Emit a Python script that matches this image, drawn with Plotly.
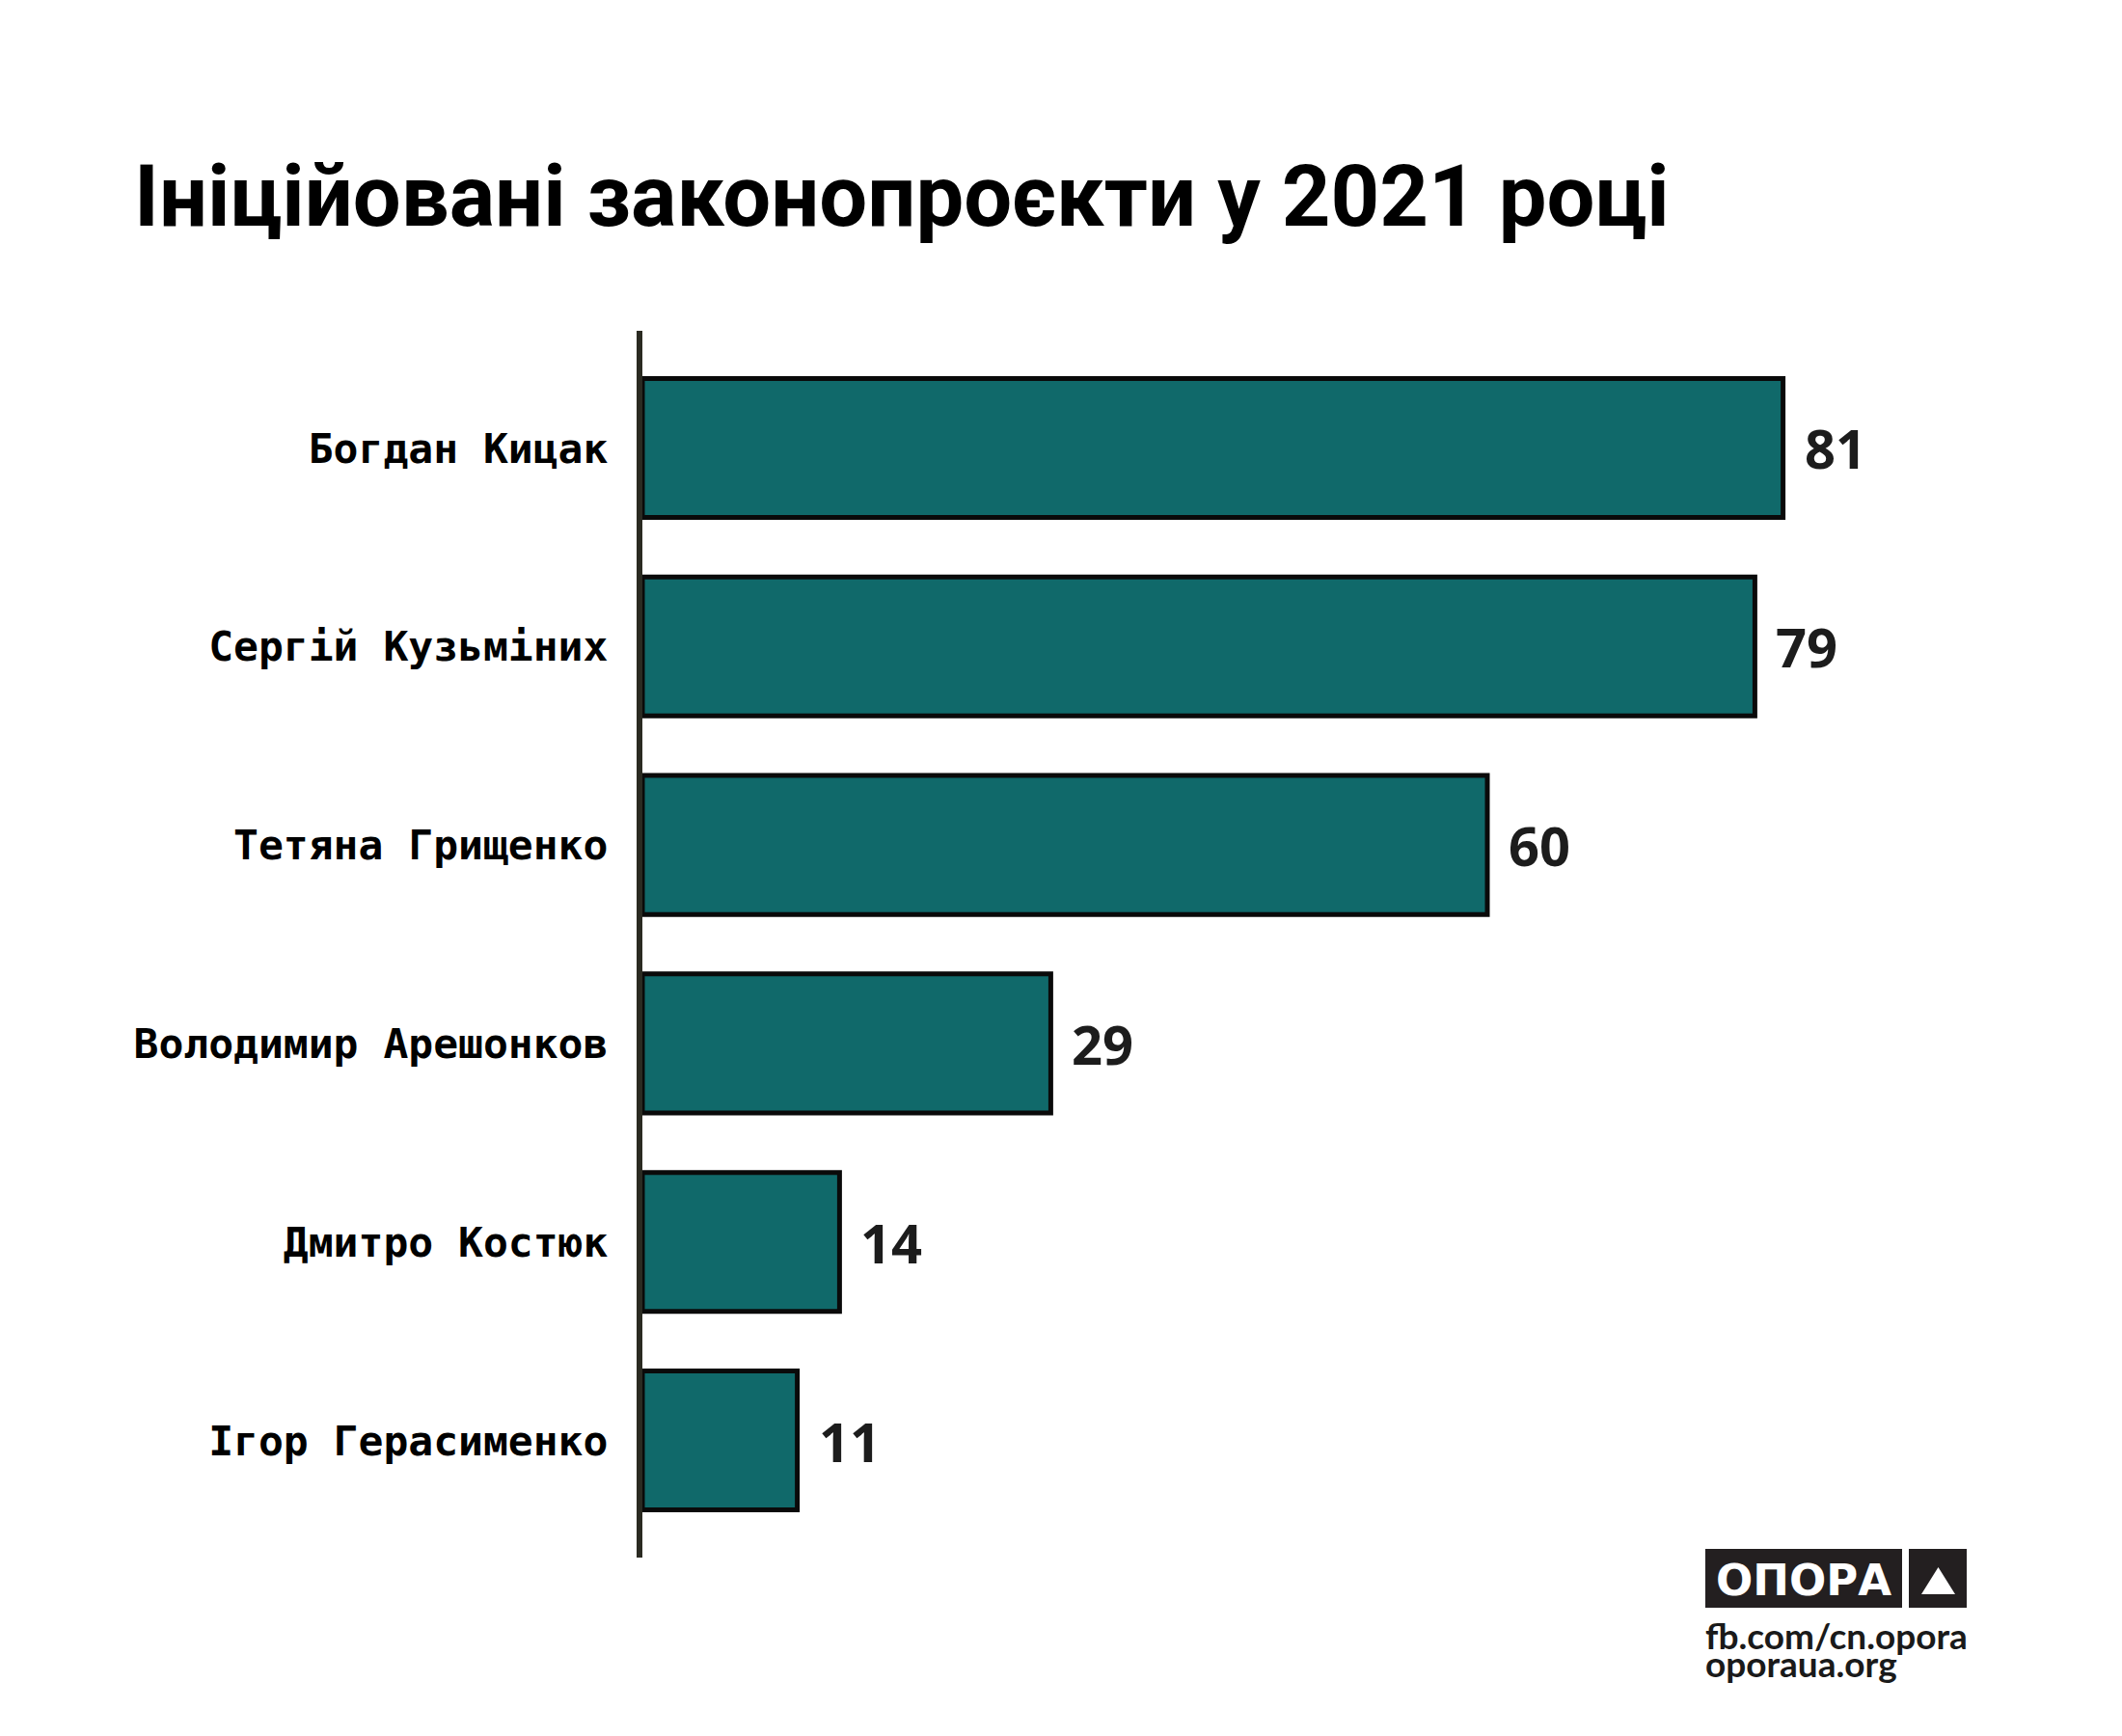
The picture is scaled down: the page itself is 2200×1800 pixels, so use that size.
import plotly.graph_objects as go

# дані
names = ["Богдан Кицак", "Сергій Кузьміних", "Тетяна Грищенко",
         "Володимир Арешонков", "Дмитро Костюк", "Ігор Герасименко"]
bills = [81, 79, 60, 29, 14, 11]

title_text = "Ініційовані законопроєкти у 2021 році"

W, H = 2200, 1800
OFF = 8  # body margin of the page
L, R, T, B = 658, 82, 335, 193


def px(x):
    return (x - OFF - L) / (W - L - R)


def py(y):
    return (H - B - (y - OFF)) / (H - T - B)


fig = go.Figure()
fig.add_trace(go.Bar(
    x=bills, y=names, orientation="h",
    width=0.7,
    marker=dict(color="#10696a", line=dict(color="#0a0a0a", width=5)),
    hoverinfo="x+y",
))

# підписи значень
for n, v in zip(names, bills):
    fig.add_annotation(x=v, y=n, text="<b>" + str(v) + "</b>", showarrow=False,
                       xanchor="left", yanchor="middle", xshift=20,
                       font=dict(family="Noto Sans", size=56, color="#1c1c1c"))

fig.update_layout(
    width=W, height=H,
    margin=dict(l=L, r=R, t=T, b=B),
    paper_bgcolor="white", plot_bgcolor="white",
    showlegend=False,
    title=dict(text="<b>" + title_text + "</b>", xref="container", yref="container",
               x=(139 - OFF) / W, xanchor="left", y=1 - (203 - OFF) / H, yanchor="middle",
               font=dict(family="Roboto", size=88.5, color="#000000")),
    xaxis=dict(range=[0, 100], visible=False, fixedrange=True),
    yaxis=dict(autorange=False, range=[5.59, -0.59], showline=True, linewidth=6,
               linecolor="#2b2b22", showgrid=False, zeroline=False, ticks="",
               ticklabelstandoff=21,
               tickfont=dict(family="DejaVu Sans Mono", size=43, color="#000000"),
               tickprefix="<b>", ticksuffix="</b>"),
)

# логотип ОПОРА
fig.add_shape(type="rect", xref="paper", yref="paper",
              x0=px(1768), x1=px(1972), y0=py(1667), y1=py(1606),
              fillcolor="#231f20", line=dict(width=0), layer="above")
fig.add_shape(type="rect", xref="paper", yref="paper",
              x0=px(1979), x1=px(2039), y0=py(1667), y1=py(1606),
              fillcolor="#231f20", line=dict(width=0), layer="above")
fig.add_shape(type="path", xref="paper", yref="paper",
              path="M %f %f L %f %f L %f %f Z" % (px(1992), py(1653), px(2027), py(1653),
                                                 px(2009.5), py(1625)),
              fillcolor="white", line=dict(width=0), layer="above")
fig.add_annotation(xref="paper", yref="paper", x=px(1870), y=py(1638),
                   text="<b>ОПОРА</b>", showarrow=False, xanchor="center", yanchor="middle",
                   font=dict(family="DejaVu Sans", size=45, color="white"))
fig.add_annotation(xref="paper", yref="paper", x=px(1766), y=py(1695),
                   text="<b>fb.com/cn.opora</b>", showarrow=False,
                   xanchor="left", yanchor="middle",
                   font=dict(family="Lato", size=37, color="#1a1a1a"))
fig.add_annotation(xref="paper", yref="paper", x=px(1766), y=py(1724),
                   text="<b>oporaua.org</b>", showarrow=False,
                   xanchor="left", yanchor="middle",
                   font=dict(family="Lato", size=37, color="#1a1a1a"))

fig.write_html("out.html")
